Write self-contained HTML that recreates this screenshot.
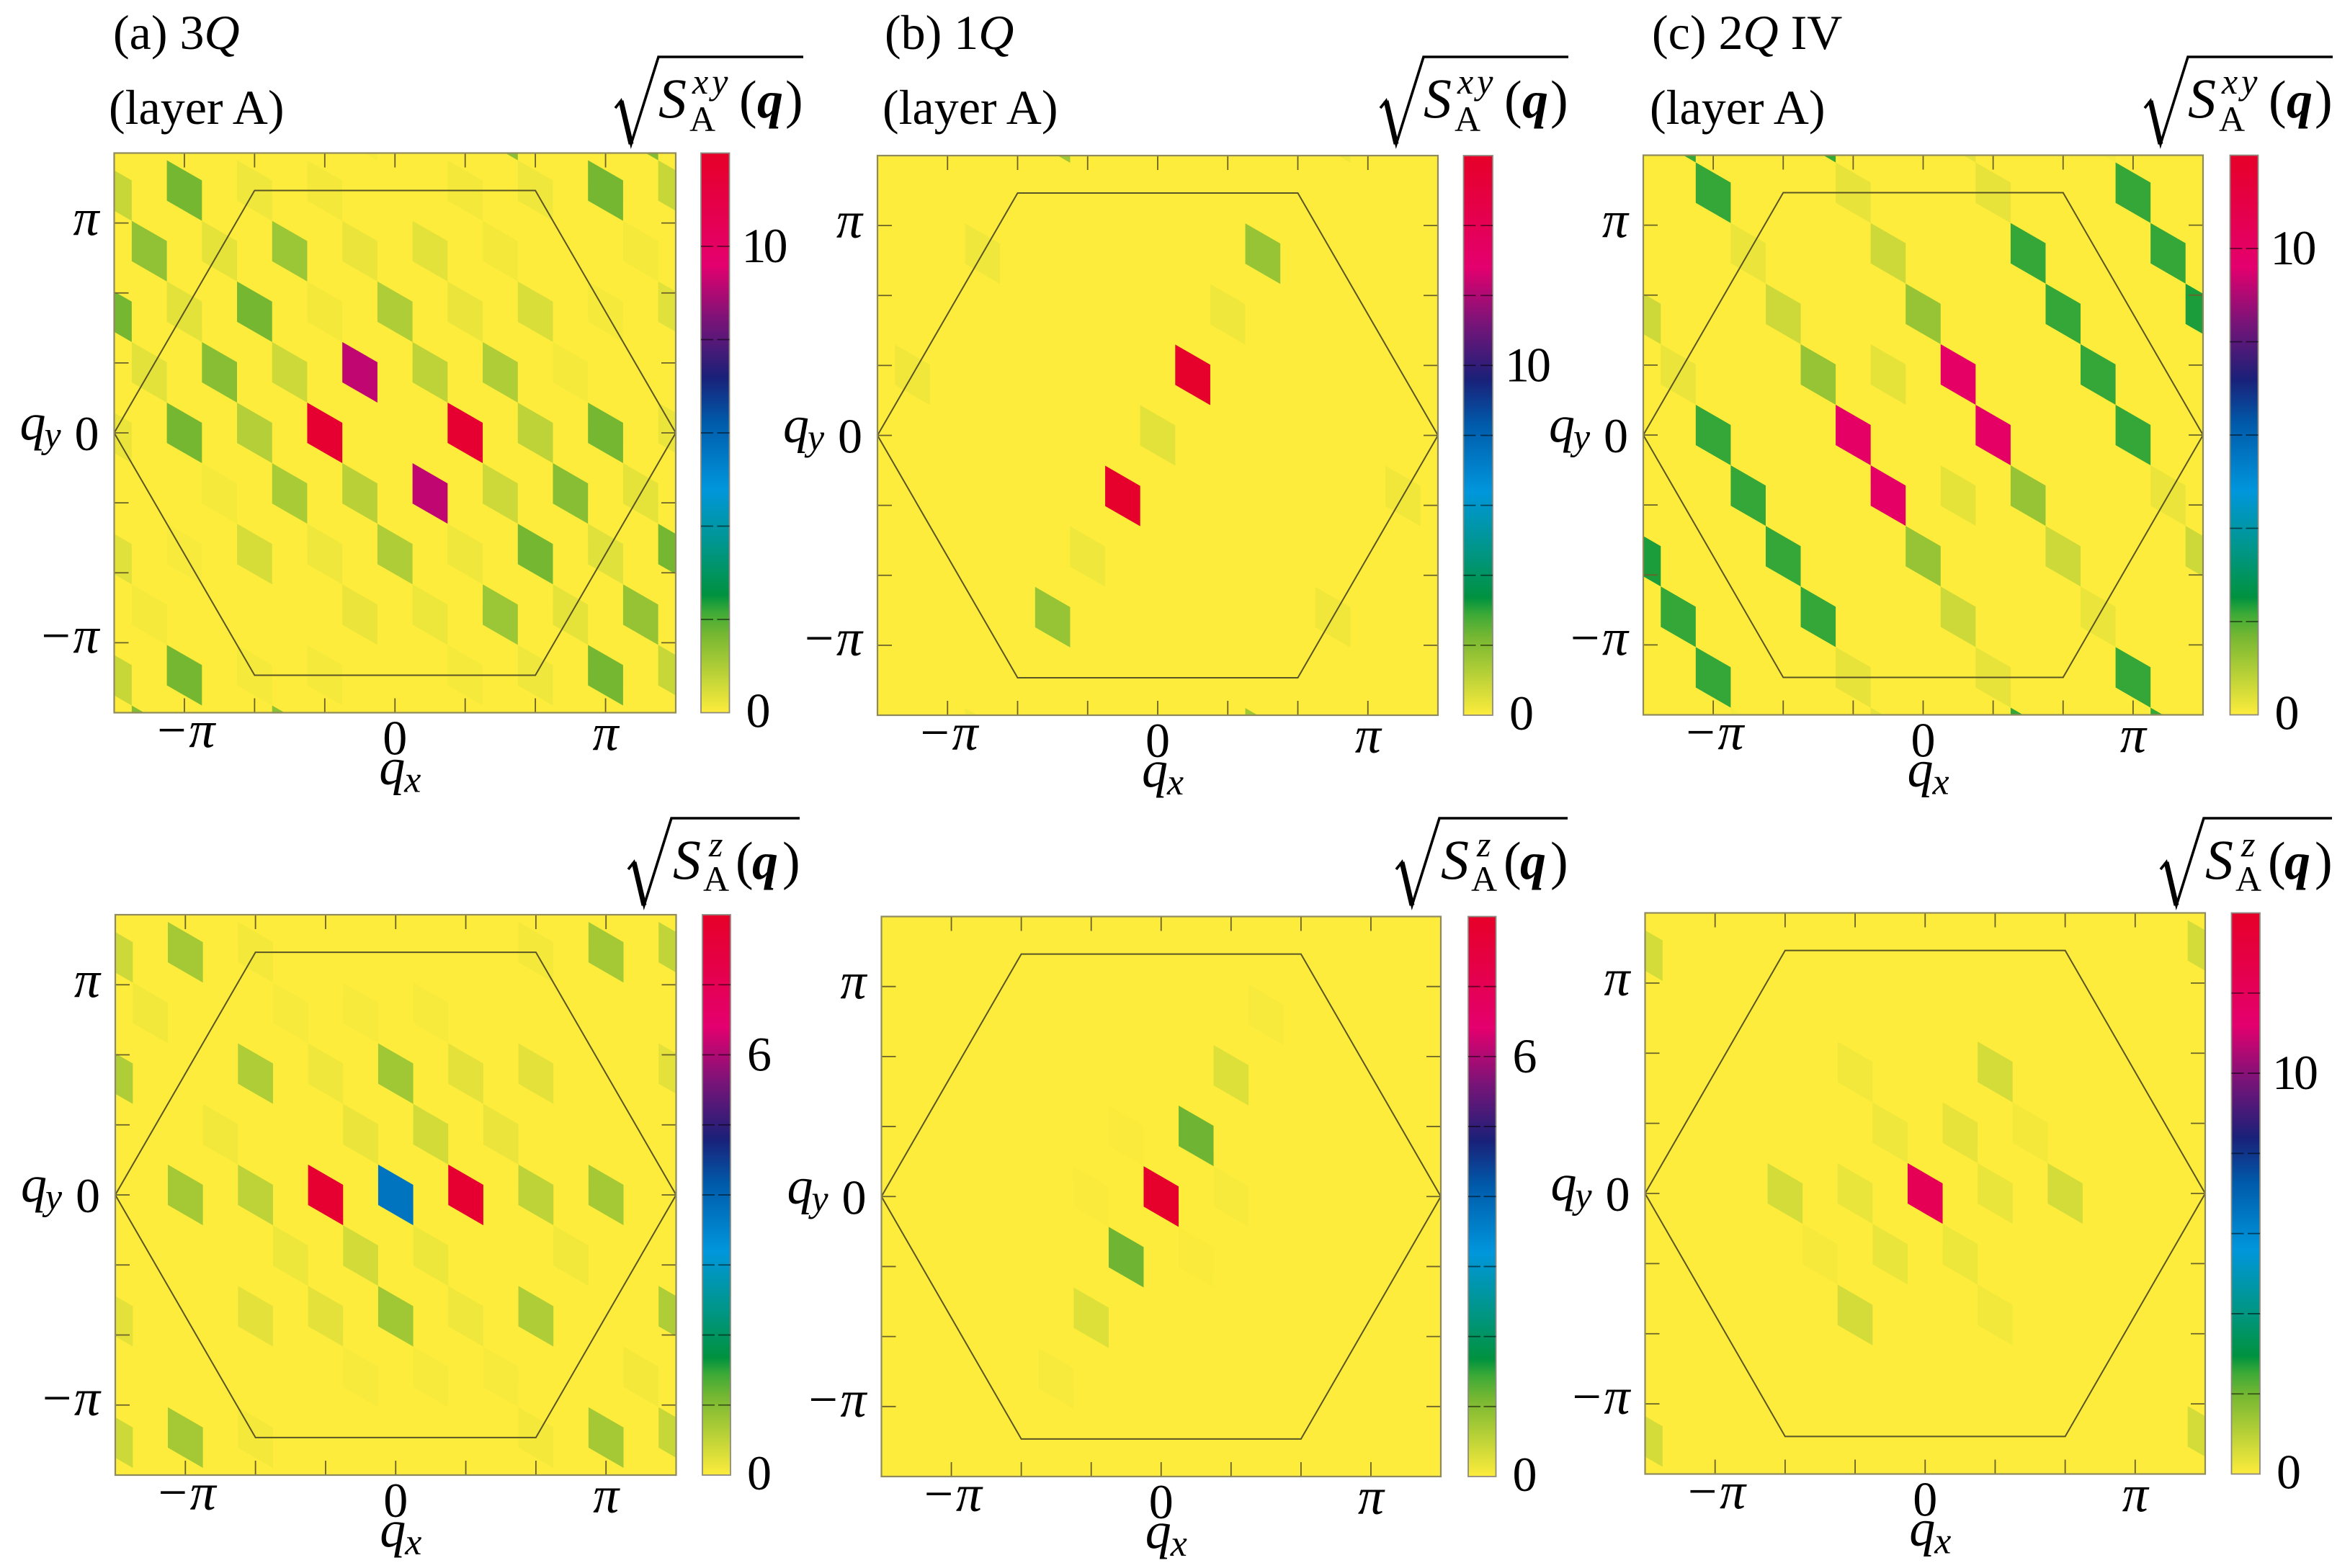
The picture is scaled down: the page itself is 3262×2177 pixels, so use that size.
<!DOCTYPE html>
<html lang="en">
<head>
<meta charset="utf-8">
<title>Spin structure factor maps</title>
<style>
html,body{margin:0;padding:0;background:#fff;}
svg{display:block;font-family:"Liberation Serif",serif;fill:#000;}
.it{font-style:italic;}
.bi{font-style:italic;font-weight:bold;}
.lab{font-size:68px;}
</style>
</head>
<body>
<svg id="chart" xmlns="http://www.w3.org/2000/svg" width="3262" height="2177" viewBox="0 0 3262 2177">
<rect x="0" y="0" width="3262" height="2177" fill="#fff"/>

<text class="lab" x="157" y="68">(a) 3<tspan class="it">Q</tspan></text>
<text class="lab" x="151" y="172">(layer A)</text>
<text class="lab" x="1228" y="68">(b) 1<tspan class="it">Q</tspan></text>
<text class="lab" x="1225" y="172">(layer A)</text>
<text class="lab" x="2293" y="68">(c) 2<tspan class="it">Q</tspan> IV</text>
<text class="lab" x="2290" y="172">(layer A)</text>

<g transform="translate(854,79)">
<path d="M0,71 L8,61 L22,121 L60,0 L261,0" fill="none" stroke="#000" stroke-width="3.6"/><path d="M8,61 L22,121" stroke="#000" stroke-width="7" fill="none"/>
<text class="it" font-size="78" x="60" y="84">S</text><text class="it" font-size="50" x="107" y="51" letter-spacing="5">xy</text><text font-size="50" x="103" y="103">A</text>
<text font-size="74" x="172" y="84">(</text><text class="bi" font-size="72" x="197" y="84">q</text><text font-size="74" x="236" y="84">)</text>
</g>
<g transform="translate(1916,79)">
<path d="M0,71 L8,61 L22,121 L60,0 L261,0" fill="none" stroke="#000" stroke-width="3.6"/><path d="M8,61 L22,121" stroke="#000" stroke-width="7" fill="none"/>
<text class="it" font-size="78" x="60" y="84">S</text><text class="it" font-size="50" x="107" y="51" letter-spacing="5">xy</text><text font-size="50" x="103" y="103">A</text>
<text font-size="74" x="172" y="84">(</text><text class="bi" font-size="72" x="197" y="84">q</text><text font-size="74" x="236" y="84">)</text>
</g>
<g transform="translate(2977,79)">
<path d="M0,71 L8,61 L22,121 L60,0 L261,0" fill="none" stroke="#000" stroke-width="3.6"/><path d="M8,61 L22,121" stroke="#000" stroke-width="7" fill="none"/>
<text class="it" font-size="78" x="60" y="84">S</text><text class="it" font-size="50" x="107" y="51" letter-spacing="5">xy</text><text font-size="50" x="103" y="103">A</text>
<text font-size="74" x="172" y="84">(</text><text class="bi" font-size="72" x="197" y="84">q</text><text font-size="74" x="236" y="84">)</text>
</g>
<g transform="translate(872,1136)">
<path d="M0,71 L8,61 L22,121 L60,0 L238,0" fill="none" stroke="#000" stroke-width="3.6"/><path d="M8,61 L22,121" stroke="#000" stroke-width="7" fill="none"/>
<text class="it" font-size="78" x="62" y="84">S</text><text class="it" font-size="50" x="112" y="53">z</text><text font-size="50" x="104" y="101">A</text>
<text font-size="74" x="149" y="84">(</text><text class="bi" font-size="72" x="172" y="84">q</text><text font-size="74" x="214" y="84">)</text>
</g>
<g transform="translate(1938,1136)">
<path d="M0,71 L8,61 L22,121 L60,0 L238,0" fill="none" stroke="#000" stroke-width="3.6"/><path d="M8,61 L22,121" stroke="#000" stroke-width="7" fill="none"/>
<text class="it" font-size="78" x="62" y="84">S</text><text class="it" font-size="50" x="112" y="53">z</text><text font-size="50" x="104" y="101">A</text>
<text font-size="74" x="149" y="84">(</text><text class="bi" font-size="72" x="172" y="84">q</text><text font-size="74" x="214" y="84">)</text>
</g>
<g transform="translate(2999,1136)">
<path d="M0,71 L8,61 L22,121 L60,0 L238,0" fill="none" stroke="#000" stroke-width="3.6"/><path d="M8,61 L22,121" stroke="#000" stroke-width="7" fill="none"/>
<text class="it" font-size="78" x="62" y="84">S</text><text class="it" font-size="50" x="112" y="53">z</text><text font-size="50" x="104" y="101">A</text>
<text font-size="74" x="149" y="84">(</text><text class="bi" font-size="72" x="172" y="84">q</text><text font-size="74" x="214" y="84">)</text>
</g>
</svg>
<script>
// Peak amplitudes: [column index, row index, value] on the reciprocal lattice
const sitesA = [[-2,-1,11.7],[2,1,11.7],[-1,1,9.2],[1,-1,9.2],
[-6,3,1.68],[-6,-3,1.68],[-6,-9,1.68],[6,9,1.68],[6,3,1.68],[6,-3,1.68],[-4,1,1.68],[4,-1,1.68],[-8,-1,1.68],[8,1,1.68],
[-5,-1,1.47],[5,1,1.47],[-7,1,1.35],[7,-1,1.3],[-3,3,1.22],[3,-3,1.22],[-3,-3,1.04],[3,3,0.98],[0,3,0.98],[0,-3,0.98],
[-4,-2,0.91],[-1,-2,0.85],[1,2,0.79],[4,2,0.79],[-3,0,0.6],[3,0,0.6],[-8,2,0.67],[8,10,0.67],[-8,-10,0.67],[8,-2,0.67],
[-4,-5,0.48],[4,5,0.44],[-8,-7,0.36],[8,7,0.36],[-4,4,0.17],[-2,5,0.11],[2,7,0.11],[4,8,0.17],[-5,2,0.3],[-1,4,0.23],
[1,5,0.32],[3,6,0.11],[7,8,0.1],[-6,0,0.32],[-2,2,0.11],[2,4,0.23],[6,6,0.1],[-7,-2,0.32],[5,4,0.1],[-5,-4,0.1],[7,2,0.3],
[-2,-4,0.17],[2,-2,0.17],[6,0,0.36],[-1,-5,0.23],[1,-4,0.2],[5,-2,0.3],[-7,-8,0.1],[-4,-8,0.1],[-2,-7,0.1],[2,-5,0.1],
[4,-4,0.17],[-6,-6,0.07],[-8,-4,0.23],[8,4,0.23],[-7,-11,1.5],[-3,-9,1.4],[3,9,1.4],[7,11,1.5],[-1,7,0.1]];
const sitesB = [[1,2,15.8],[-1,-2,15.8],[3,6,1.71],[-3,-6,1.71],[2,4,0.23],[-2,-4,0.23],[0,0,0.43],[-5,2,0.23],[-7,-2,0.2],
[7,2,0.2],[5,-2,0.2],[-3,6,1.55],[3,-6,1.55],[5,10,0.2],[-5,-10,0.2]];
const sitesC = [[1,2,9.9],[2,1,9.9],[-2,-1,9.9],[-1,-2,9.9],
[-6,3,2.2],[-6,-3,2.2],[-5,-4,2.2],[-4,-5,2.2],[-3,-6,2.2],[-7,-8,2.2],[-6,-9,2.2],[6,9,2.2],[7,8,2.2],[3,6,2.2],[4,5,2.2],[5,4,2.2],[6,3,2.2],[6,-3,2.2],
[8,7,2.35],[-8,-7,2.35],[0,3,1.28],[-3,0,1.28],[3,0,1.28],[0,-3,1.28],[-4,1,0.6],[-1,4,0.6],[4,-1,0.6],[1,-4,0.6],[-8,-1,0.6],[8,1,0.6],
[-1,1,0.3],[1,-1,0.3],[-5,2,0.23],[-7,-2,0.23],[-2,5,0.27],[2,7,0.27],[-2,-7,0.27],[2,-5,0.27],[7,2,0.23],[5,-2,0.23],
[-7,4,2.2],[-3,6,2.2],[1,8,0.3],[3,-6,2.2],[7,-4,2.2],[-1,-8,0.3],[5,10,0.1],[-5,-10,0.1]];
const sitesD = [[-2,-1,7.8],[2,1,7.8],[0,0,3.75],[0,3,0.77],[0,-3,0.77],[-6,3,0.73],[-6,-3,0.73],[-6,-9,0.73],[6,9,0.73],[6,3,0.73],[6,-3,0.73],
[-4,1,0.65],[-4,-2,0.53],[4,2,0.53],[4,-1,0.65],[1,2,0.35],[-1,-2,0.35],[2,4,0.21],[4,5,0.21],[-2,2,0.115],[-4,-5,0.21],[-2,-4,0.21],[2,-2,0.115],
[-1,1,0.16],[3,3,0.16],[-5,-1,0.09],[-3,-3,0.13],[1,-1,0.13],[5,1,0.09],[-7,1,0.09],[7,-1,0.074],
[-8,2,0.4],[-8,-1,0.65],[-8,-7,0.21],[-8,-10,0.4],[8,10,0.49],[8,7,0.21],[8,1,0.65],[8,-2,0.44],
[-4,4,0.074],[4,8,0.074],[-4,-8,0.074],[4,-4,0.074],[-3,3,0.05],[-1,4,0.05],[1,5,0.05],[-1,-5,0.05],[1,-4,0.05],[3,-3,0.05]];
const sitesE = [[0,0,7.9],[1,2,1.16],[-1,-2,1.16],[2,4,0.26],[-2,-4,0.26],[3,6,0.05],[-3,-6,0.05],[-1,1,0.035],[-2,-1,0.035],[2,1,0.05],[1,-1,0.035]];
const sitesF = [[0,0,12.2],[2,4,0.6],[-2,-4,0.6],[-4,-2,0.6],[4,2,0.6],[1,2,0.32],[-1,-2,0.27],[-1,1,0.2],[1,-1,0.23],[-2,-1,0.27],[2,1,0.27],
[-2,2,0.16],[2,-2,0.16],[3,3,0.13],[-3,-3,0.1],[-8,2,0.6],[-8,-10,0.6],[8,10,0.6],[8,-2,0.6]];

// Axis ticks, in multiples of pi/3
const axisTicks = [-4,-3,-2,-1,0,1,2,3,4];
const labeledTicks = [-3,0,3];
const labeledTickText = ['\u2212\u03c0','0','\u03c0'];

// Colorbar ranges and tick values
const colorbarMax = {a:12, b:16, c:12, d:8, e:8, f:14};
const colorbarStep = {a:2, b:2, c:2, d:1, e:1, f:2};
const colorbarLabels = {a:[0,10], b:[0,10], c:[0,10], d:[0,6], e:[0,6], f:[0,10]};

// Shared colormap: [fraction, r, g, b]
const colormap = [[0,253,236,60],[0.14,118,183,50],[0.18,60,170,55],[0.21,0,146,63],[0.3,0,150,140],[0.4,0,150,220],[0.52,0,90,170],[0.6,26,32,120],[0.7,120,20,120],[0.8,228,0,110],[1,230,0,40]];

const panels = [
 {id:'a',sites:sitesA,x0:158.5,x1:938,y0:212.5,y1:989.5,cb0:973,cb1:1012.5},
 {id:'b',sites:sitesB,x0:1218,x1:1996,y0:216,y1:993,cb0:2031.5,cb1:2072},
 {id:'c',sites:sitesC,x0:2281,x1:3058,y0:215.5,y1:992.5,cb0:3095.5,cb1:3134.5},
 {id:'d',sites:sitesD,x0:160,x1:938.5,y0:1270,y1:2048,cb0:975,cb1:1014},
 {id:'e',sites:sitesE,x0:1223.5,x1:2000,y0:1272.5,y1:2050,cb0:2038,cb1:2076.5},
 {id:'f',sites:sitesF,x0:2283.5,x1:3061,y0:1267.5,y1:2046.5,cb0:3097.5,cb1:3137}
];

const NS = 'http://www.w3.org/2000/svg';
const svg = document.getElementById('chart');
const PI = Math.PI;
const QMAX = 4*PI/3;
const SQ3 = Math.sqrt(3);

function make(tag, attrs, parent){
  const el = document.createElementNS(NS, tag);
  for (const k in attrs) el.setAttribute(k, attrs[k]);
  parent.appendChild(el);
  return el;
}
function colorFor(frac){
  const f = Math.max(0, Math.min(1, frac));
  for (let s = 1; s < colormap.length; s++){
    if (f <= colormap[s][0]){
      const a = colormap[s-1], b = colormap[s];
      const t = (f-a[0])/(b[0]-a[0]);
      return 'rgb(' + [1,2,3].map(n => Math.round(a[n]+(b[n]-a[n])*t)).join(',') + ')';
    }
  }
  return 'rgb(230,0,40)';
}

panels.forEach(function(p){
  const w = p.x1-p.x0, h = p.y1-p.y0;
  const X = q => p.x0 + (q+QMAX)/(2*QMAX)*w;
  const Y = q => p.y1 - (q+QMAX)/(2*QMAX)*h;
  const cbY = f => p.y1 - f*h;
  const max = colorbarMax[p.id];

  const g = make('g', {}, svg);
  
  

  const clipId = 'clip-' + p.id;
  const clip = make('clipPath', {id:clipId}, g);
  make('rect', {x:p.x0,y:p.y0,width:w,height:h}, clip);

  const bg = make('rect', {x:p.x0,y:p.y0,width:w,height:h,fill:colorFor(0)}, g);
  
  

  const cells = make('g', {'clip-path':'url(#'+clipId+')'}, g);
  
  
  const stepX = PI/6, stepU = PI/(6*SQ3), stepV = 2*stepU;
  p.sites.forEach(function(site){
    const qx = site[0]*stepX;
    const qy = (2*site[1]-site[0])*stepU;
    const tall = stepV/2 + stepU/2, low = stepV/2 - stepU/2;
    const pts = [[-stepX/2, tall],[stepX/2, low],[stepX/2,-tall],[-stepX/2,-low]]
      .map(d => X(qx+d[0]).toFixed(2)+','+Y(qy+d[1]).toFixed(2)).join(' ');
    const cell = make('polygon', {points:pts, fill:colorFor(site[2]/max)}, cells);
    
    
  });

  const hexQ = [[-QMAX,0],[-2*PI/3,2*PI/SQ3],[2*PI/3,2*PI/SQ3],[QMAX,0],[2*PI/3,-2*PI/SQ3],[-2*PI/3,-2*PI/SQ3]];
  const hex = make('polygon', {points:hexQ.map(d => X(d[0]).toFixed(2)+','+Y(d[1]).toFixed(2)).join(' '), fill:'none', stroke:'#5a5525', 'stroke-width':2}, g);
  
  

  axisTicks.forEach(function(t){
    const q = t*PI/3, px = X(q), py = Y(q);
    [[px,p.y0,px,p.y0+20],[px,p.y1,px,p.y1-20],[p.x0,py,p.x0+20,py],[p.x1,py,p.x1-20,py]].forEach(function(c){
      const tick = make('line', {x1:c[0],y1:c[1],x2:c[2],y2:c[3],stroke:'#6a6228','stroke-width':1.8}, g);
      
      
    });
  });

  const frame = make('rect', {x:p.x0,y:p.y0,width:w,height:h,fill:'none',stroke:'#8f8a5c','stroke-width':2.2}, g);
  
  

  labeledTicks.forEach(function(t, n){
    const q = t*PI/3, txt = labeledTickText[n];
    const isZero = t === 0;
    const xl = make('text', {x:X(q), y:p.y1+(isZero?58:(t<0?48:52)), 'font-size':isZero?68:72, 'text-anchor':'middle', 'font-style':isZero?'normal':'italic'}, g);
    xl.textContent = txt;
    
    
    const yl = make('text', {x:p.x0-21, y:Y(q)+(isZero?24:(t<0?14:17)), 'font-size':isZero?68:72, 'text-anchor':'end', 'font-style':isZero?'normal':'italic'}, g);
    yl.textContent = txt;
    
    
  });

  const cx = (p.x0+p.x1)/2, cy = (p.y0+p.y1)/2;
  const qxMain = make('text', {x:cx-22, y:p.y1+99, 'font-size':72, 'font-style':'italic'}, g);
  qxMain.textContent = 'q';
  
  
  const qxSub = make('text', {x:cx+13, y:p.y1+110, 'font-size':52, 'font-style':'italic'}, g);
  qxSub.textContent = 'x';
  
  
  const qyMain = make('text', {x:p.x0-131, y:cy+9, 'font-size':72, 'font-style':'italic'}, g);
  qyMain.textContent = 'q';
  
  
  const qySub = make('text', {x:p.x0-97, y:cy+20, 'font-size':52, 'font-style':'italic'}, g);
  qySub.textContent = 'y';
  
  

  const gradId = 'cb-' + p.id;
  const defs = make('defs', {}, g);
  const grad = make('linearGradient', {id:gradId, x1:0, y1:1, x2:0, y2:0}, defs);
  colormap.forEach(function(s){
    make('stop', {offset:s[0], 'stop-color':'rgb('+s[1]+','+s[2]+','+s[3]+')'}, grad);
  });
  const bar = make('rect', {x:p.cb0,y:p.y0,width:p.cb1-p.cb0,height:h,fill:'url(#'+gradId+')',stroke:'#8f8a80','stroke-width':1.8}, g);
  
  

  const step = colorbarStep[p.id];
  for (let v = step; v < max; v += step){
    const ty = cbY(v/max);
    [[p.cb0,p.cb0+17],[p.cb1-17,p.cb1]].forEach(function(c){
      const tick = make('line', {x1:c[0],y1:ty,x2:c[1],y2:ty,stroke:'#000','stroke-opacity':0.55,'stroke-width':1.8}, g);
      
      
    });
  }
  colorbarLabels[p.id].forEach(function(v){
    const big = v >= 10;
    const lab = make('text', {x:p.cb1+(big?17:23), y:v===0?p.y1+20:cbY(v/max)+22, 'font-size':68, 'letter-spacing':big?-4:0}, g);
    lab.textContent = String(v);
    
    
  });
});
</script>
</body>
</html>
